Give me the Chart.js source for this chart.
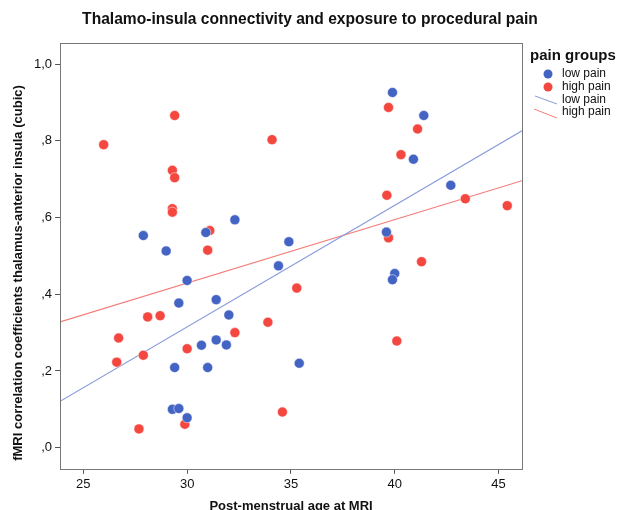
<!DOCTYPE html>
<html>
<head>
<meta charset="utf-8">
<script src="https://cdn.jsdelivr.net/npm/chart.js@4"></script>
<style>
  body { margin: 0; overflow: hidden; background: #fff; }
  #wrap { width: 619px; height: 514px; position: relative; }
</style>
</head>
<body>
<div id="wrap"><canvas id="chart"></canvas></div>
<script>
// ---- Data ----
const lowAge = [39.89, 41.40, 40.90, 42.70, 27.89, 28.99, 30.90, 32.30, 34.90, 34.40, 39.60,
                40.0, 39.89, 30.0, 29.6, 31.40, 32.01, 31.40, 30.69, 31.89, 29.40, 30.99, 35.40,
                29.29, 29.60, 30.0];
const lowConn = [0.926, 0.866, 0.752, 0.684, 0.553, 0.513, 0.561, 0.594, 0.537, 0.474, 0.562,
                 0.454, 0.438, 0.436, 0.377, 0.386, 0.346, 0.281, 0.267, 0.268, 0.209, 0.209, 0.220,
                 0.100, 0.102, 0.078];
const highAge = [25.98, 29.40, 29.29, 29.40, 29.29, 29.29, 31.09, 30.99, 34.09, 39.70, 41.10,
                 40.30, 39.62, 43.40, 45.42, 39.70, 41.29, 35.28, 28.10, 28.70, 33.89, 32.30,
                 26.70, 30.0, 40.10, 27.89, 26.61, 34.59, 27.68, 29.89];
const highConn = [0.790, 0.866, 0.723, 0.704, 0.623, 0.614, 0.566, 0.515, 0.803, 0.887, 0.831,
                  0.764, 0.658, 0.649, 0.631, 0.547, 0.485, 0.416, 0.341, 0.344, 0.327, 0.300,
                  0.286, 0.258, 0.278, 0.241, 0.223, 0.093, 0.049, 0.061];

// fit lines, read at the left and right edge of the plot
const fitAge = [23.88, 46.13];
const lowFit = [0.121, 0.826];
const highFit = [0.328, 0.696];

const xTicks = [25, 30, 35, 40, 45];
const yTicks = [0, 0.2, 0.4, 0.6, 0.8, 1.0];
const yTickLabels = [",0", ",2", ",4", ",6", ",8", "1,0"];

const groupNames = ["low pain", "high pain"];

const BLUE = "#4464c4";
const RED = "#f4473f";
const BLUE_LINE = "#8a9bdb";
const RED_LINE = "#f47e7b";
const font = "'Liberation Sans', Arial, sans-serif";

const pts = (xs, ys) => xs.map((x, i) => ({ x: x, y: ys[i] }));

// box round the plot area
const frame = {
  id: "frame",
  afterDraw(chart) {
    const a = chart.chartArea, ctx = chart.ctx;
    ctx.save();
    ctx.strokeStyle = "#777";
    ctx.lineWidth = 1;
    ctx.strokeRect(Math.round(a.left) + 0.5, Math.round(a.top) + 0.5,
                   Math.round(a.right - a.left), Math.round(a.bottom - a.top));
    ctx.restore();
  }
};

// title, y title and legend drawn by hand so they sit where the original has them
const extras = {
  id: "extras",
  afterDraw(chart) {
    const ctx = chart.ctx;
    ctx.save();
    ctx.fillStyle = "#111";
    ctx.textAlign = "center";
    ctx.textBaseline = "middle";
    ctx.font = "bold 15.6px " + font;
    ctx.fillText("Thalamo-insula connectivity and exposure to procedural pain", 310, 20);
    ctx.font = "bold 13px " + font;
    ctx.translate(18, 273);
    ctx.rotate(-Math.PI / 2);
    ctx.fillText("fMRI correlation coefficients thalamus-anterior insula (cubic)", 0, 0);
    ctx.restore();

    ctx.save();
    ctx.textAlign = "left";
    ctx.textBaseline = "middle";
    ctx.fillStyle = "#111";
    ctx.font = "bold 15px " + font;
    ctx.fillText("pain groups", 530, 56);
    ctx.font = "12px " + font;
    const rows = [74, 87, 100, 112];
    ctx.fillStyle = BLUE;
    ctx.beginPath(); ctx.arc(548, rows[0], 4.5, 0, Math.PI * 2); ctx.fill();
    ctx.fillStyle = RED;
    ctx.beginPath(); ctx.arc(548, rows[1], 4.5, 0, Math.PI * 2); ctx.fill();
    ctx.lineWidth = 1;
    ctx.strokeStyle = BLUE_LINE;
    ctx.beginPath(); ctx.moveTo(535, 96); ctx.lineTo(557, 104); ctx.stroke();
    ctx.strokeStyle = RED_LINE;
    ctx.beginPath(); ctx.moveTo(534, 109); ctx.lineTo(557, 118); ctx.stroke();
    ctx.fillStyle = "#111";
    ctx.fillText(groupNames[0], 562, rows[0]);
    ctx.fillText(groupNames[1], 562, rows[1]);
    ctx.fillText(groupNames[0], 562, rows[2]);
    ctx.fillText(groupNames[1], 562, rows[3]);
    ctx.restore();
  }
};

new Chart(document.getElementById("chart"), {
  type: "scatter",
  data: {
    datasets: [
      {
        label: groupNames[0] + " fit", type: "line", data: pts(fitAge, lowFit),
        borderColor: BLUE_LINE, borderWidth: 1.2, pointRadius: 0, order: 3
      },
      {
        label: groupNames[1] + " fit", type: "line", data: pts(fitAge, highFit),
        borderColor: RED_LINE, borderWidth: 1.2, pointRadius: 0, order: 3
      },
      {
        label: groupNames[0], data: pts(lowAge, lowConn),
        backgroundColor: BLUE, borderColor: "#fff", borderWidth: 0.5, pointRadius: 5, order: 1
      },
      {
        label: groupNames[1], data: pts(highAge, highConn),
        backgroundColor: RED, borderColor: "#fff", borderWidth: 0.5, pointRadius: 5, order: 2
      }
    ]
  },
  options: {
    responsive: true,
    maintainAspectRatio: false,
    animation: false,
    layout: { padding: { left: 31, right: 97, top: 43, bottom: 0 } },
    plugins: {
      legend: { display: false },
      tooltip: { enabled: false },
      title: { display: false }
    },
    scales: {
      x: {
        type: "linear",
        min: fitAge[0], max: fitAge[1],
        afterBuildTicks: ax => { ax.ticks = xTicks.map(v => ({ value: v })); },
        grid: { drawOnChartArea: false, drawTicks: true, tickLength: 5, color: "#555" },
        border: { display: false },
        ticks: { color: "#111", font: { family: font, size: 13 }, padding: 3, maxRotation: 0 },
        title: {
          display: true, text: "Post-menstrual age at MRI", color: "#111",
          font: { family: font, size: 13, weight: "bold" }, padding: { top: 3, bottom: 0 }
        }
      },
      y: {
        type: "linear",
        min: -0.055, max: 1.055,
        afterBuildTicks: ax => { ax.ticks = yTicks.map(v => ({ value: v })); },
        grid: { drawOnChartArea: false, drawTicks: true, tickLength: 5, color: "#555" },
        border: { display: false },
        ticks: {
          color: "#111", font: { family: font, size: 13 }, padding: 3,
          callback: v => { const i = yTicks.findIndex(t => Math.abs(t - v) < 1e-6); return i >= 0 ? yTickLabels[i] : ""; }
        }
      }
    }
  },
  plugins: [frame, extras]
});
</script>
</body>
</html>
